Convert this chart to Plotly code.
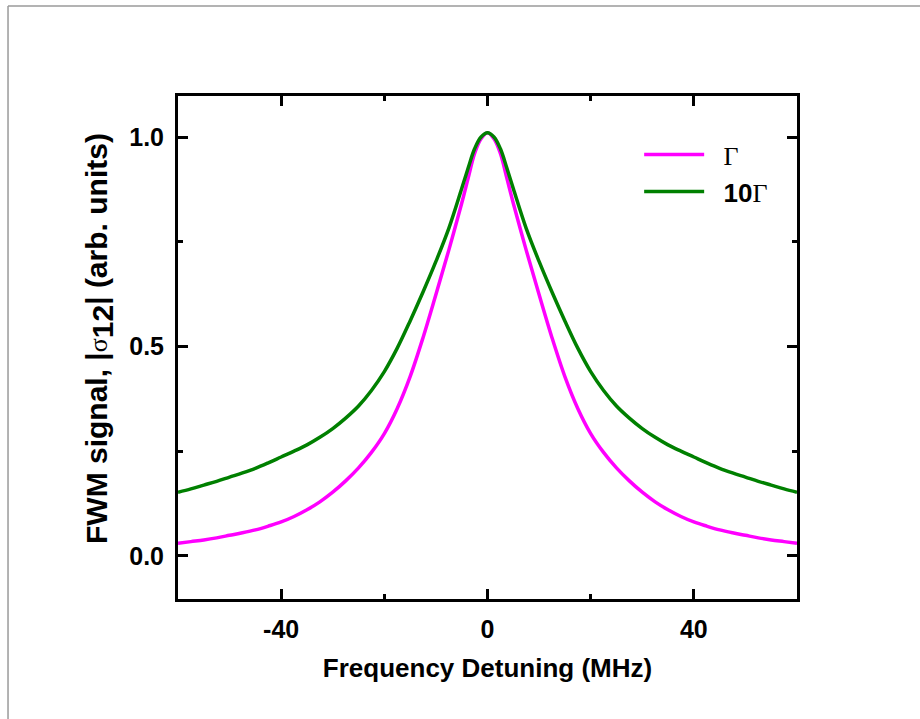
import plotly.graph_objects as go

# Detuning grid (MHz)
x_mhz = [-60, -57.5, -55, -52.5, -50, -47.5, -45, -42.5, -40, -37.5, -35, -32.5, -30, -27.5, -25, -22.5,
         -20, -17.5, -15, -12.5, -10, -7.5, -5, -3.75, -2.5, -1.25,
         0, 1.25, 2.5, 3.75, 5, 7.5, 10, 12.5, 15, 17.5, 20, 22.5, 25, 27.5, 30, 32.5, 35, 37.5, 40, 42.5, 45,
         47.5, 50, 52.5, 55, 57.5, 60]

# FWM signal for linewidth Gamma (magenta)
sig_gamma = [0.030, 0.034, 0.038, 0.043, 0.049, 0.055, 0.062, 0.071, 0.081, 0.094, 0.110, 0.129, 0.152, 0.179,
             0.210, 0.247, 0.292, 0.352, 0.428, 0.521, 0.624, 0.730, 0.842, 0.902, 0.961, 0.996,
             1.010, 0.996, 0.961, 0.902, 0.842, 0.730, 0.624, 0.521, 0.428, 0.352, 0.292, 0.247, 0.210, 0.179,
             0.152, 0.129, 0.110, 0.094, 0.081, 0.071, 0.062, 0.055, 0.049, 0.043, 0.038, 0.034, 0.030]

# FWM signal for linewidth 10 Gamma (green)
sig_10gamma = [0.152, 0.160, 0.169, 0.178, 0.188, 0.198, 0.209, 0.222, 0.236, 0.250, 0.265, 0.283, 0.304, 0.329,
               0.358, 0.395, 0.440, 0.496, 0.561, 0.630, 0.703, 0.782, 0.877, 0.926, 0.972, 1.000,
               1.010, 1.000, 0.972, 0.926, 0.877, 0.782, 0.703, 0.630, 0.561, 0.496, 0.440, 0.395, 0.358, 0.329,
               0.304, 0.283, 0.265, 0.250, 0.236, 0.222, 0.209, 0.198, 0.188, 0.178, 0.169, 0.160, 0.152]

x_tickvals = [-40, 0, 40]
x_ticktext = ["-40", "0", "40"]

series_names = ["\u00a0\u00a0<span style='font-family:Liberation Serif;font-weight:normal'>Γ</span>",
                "\u00a0\u00a0<b>10</b><span style='font-family:Liberation Serif;font-weight:normal'>Γ</span>"]
colors = ["#ff00ff", "#008000"]

fig = go.Figure()
for ys, name, col in zip([sig_gamma, sig_10gamma], series_names, colors):
    fig.add_trace(go.Scatter(x=x_mhz, y=ys, mode="lines", name=name,
                             line=dict(color=col, width=3.5, shape="spline", smoothing=1.0)))

axis_common = dict(showline=True, linewidth=3, linecolor="black", mirror="ticks",
                   ticks="inside", ticklen=10, tickwidth=2.5, tickcolor="black",
                   showgrid=False, zeroline=False,
                   tickfont=dict(family="Liberation Sans", size=25, color="black", weight="bold"),
                   title_font=dict(family="Liberation Sans", size=26, color="black", weight="bold"))

fig.update_xaxes(range=[-60, 60], tickmode="array", tickvals=x_tickvals, ticktext=x_ticktext,
                 minor=dict(tick0=0, dtick=20, ticks="inside", ticklen=5, tickwidth=2.5, tickcolor="black"),
                 title_text="Frequency Detuning (MHz)", title_standoff=17, ticklabelstandoff=6, **axis_common)
fig.update_yaxes(range=[-0.103, 1.098], tick0=0, dtick=0.5, tickformat=".1f",
                 minor=dict(tick0=0, dtick=0.25, ticks="inside", ticklen=5, tickwidth=2.5, tickcolor="black"),
                 ticklabelstandoff=6, **axis_common)

# y-axis title placed as a rotated annotation
fig.add_annotation(xref="paper", yref="paper", x=-0.126, y=0.517, xanchor="center", yanchor="middle",
                   textangle=-90, showarrow=False,
                   text="FWM signal, |<span style='font-family:Liberation Serif;font-weight:normal;font-size:26px'>σ</span><sub><span style='font-size:30px'>12</span></sub>| (arb. units)",
                   font=dict(family="Liberation Sans", size=30, color="black", weight="bold"))

# outer page frame (top and left edges)
fig.add_shape(type="line", xref="paper", yref="paper", x0=-0.2746, x1=1.25, y0=1.179, y1=1.179,
              line=dict(color="#9a9a9a", width=1.5))
fig.add_shape(type="line", xref="paper", yref="paper", x0=-0.2746, x1=-0.2746, y0=1.179, y1=-0.25,
              line=dict(color="#9a9a9a", width=1.5))

fig.update_layout(width=920, height=719, margin=dict(l=178, r=123, t=96, b=120),
                  plot_bgcolor="white", paper_bgcolor="white",
                  legend=dict(x=0.745, y=0.93, xanchor="left", yanchor="top", bgcolor="rgba(0,0,0,0)",
                              font=dict(family="Liberation Sans", size=26, color="black"),
                              itemwidth=60, tracegroupgap=0),
                  showlegend=True)

fig.write_html("out.html")
